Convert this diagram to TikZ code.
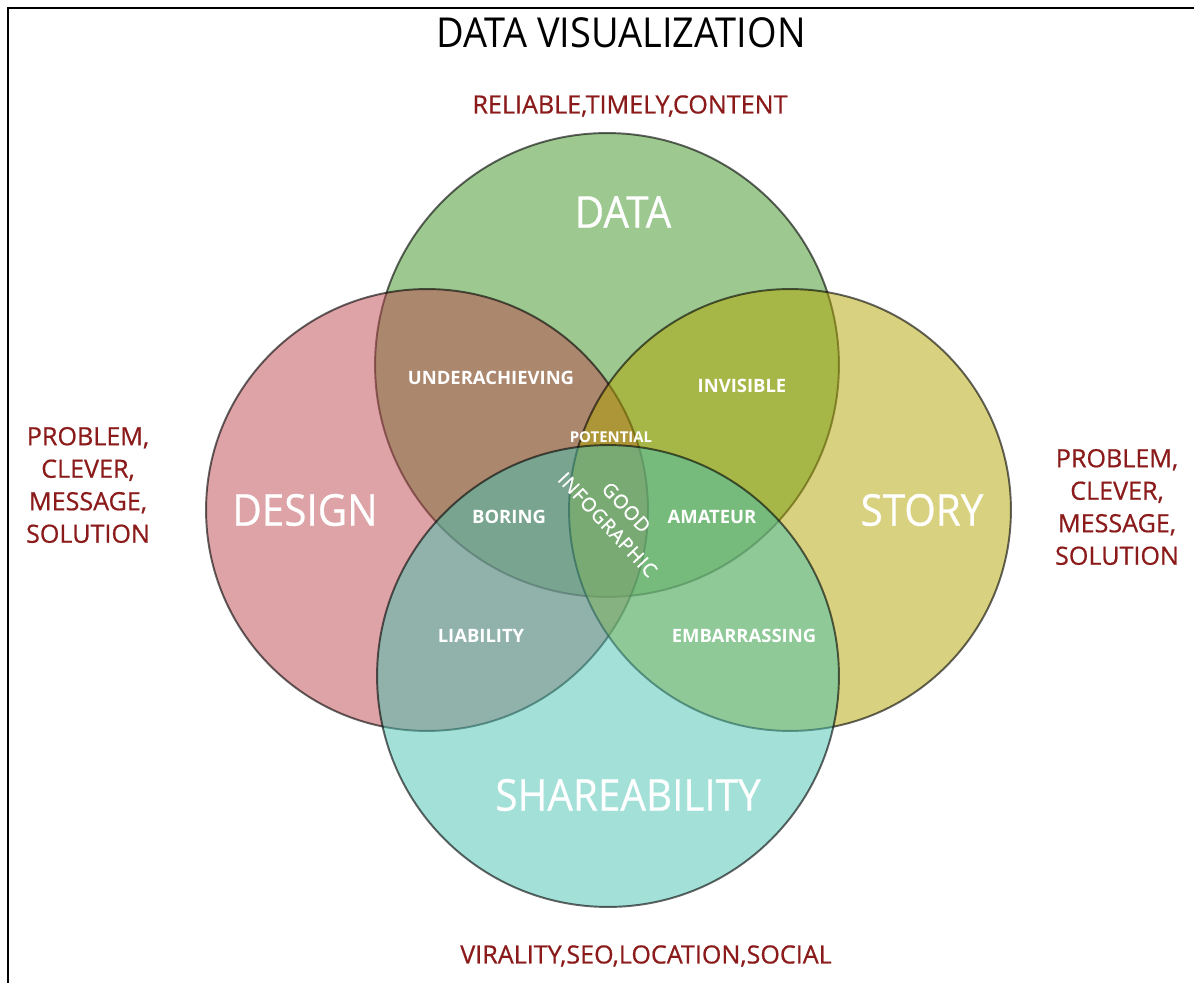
\documentclass[tikz,border=0pt]{standalone}
\usepackage{fontspec}
\setmainfont{Open Sans}
\newfontfamily\narrowfont[FakeStretch=0.92]{Open Sans}
\newfontfamily\notefont[FakeBold=0.6]{Open Sans}
\newfontfamily\bigfont[FakeStretch=0.92, FakeBold=0.5]{Open Sans}
\newfontfamily\spacedfont[LetterSpace=4, FakeBold=0.8]{Open Sans}
\usetikzlibrary{positioning}

\definecolor{datagreen}{RGB}{59,145,33}
\definecolor{designpink}{RGB}{187,71,77}
\definecolor{storyolive}{RGB}{177,165,1}
\definecolor{sharecyan}{RGB}{71,193,177}
\definecolor{notered}{RGB}{139,26,26}

\tikzset{
	venn/.style={circle, draw=black, draw opacity=0.6, line width=1.1pt, fill opacity=0.5, inner sep=0pt},
	bigword/.style={text=white, font=\bigfont\fontsize{25}{30}\selectfont},
	smallword/.style={text=white, font=\bfseries\fontsize{10.5}{12}\selectfont},
	noteword/.style={text=notered, align=center, font=\notefont\fontsize{14.3}{18.5}\selectfont},
}

\begin{document}
\begin{tikzpicture}[x=0.02cm, y=-0.02cm]
	\useasboundingbox (0,0) rectangle (1194,983);
	% frame
	\draw[line width=1.2pt] (8,983) -- (8,8) -- (1194,8);

	% the four circles
	\node[venn, fill=datagreen, minimum size=9.28cm] (data) at (607,365) {};
	\node[venn, fill=designpink, minimum size=8.84cm] (design) at (427,510) {};
	\node[venn, fill=storyolive, minimum size=8.84cm] (story) at (790,510) {};
	\node[venn, fill=sharecyan, minimum size=9.24cm] (share) at (608,676) {};

	% titles
	\node[font=\narrowfont\fontsize{23.5}{28}\selectfont] (title) at (621,33) {DATA VISUALIZATION};
	\node[noteword] (top) at (630,106) {RELIABLE,TIMELY,CONTENT};
	\node[noteword] (bottom) at (646,956) {VIRALITY,SEO,LOCATION,SOCIAL};
	\node[noteword] (left) at (88,485) {PROBLEM,\\CLEVER,\\MESSAGE,\\SOLUTION};
	\node[noteword] (right) at (1117,507) {PROBLEM,\\CLEVER,\\MESSAGE,\\SOLUTION};

	% circle names
	\node[bigword] (datalbl) at (623,212) {DATA};
	\node[bigword] (designlbl) at (305,510) {DESIGN};
	\node[bigword] (storylbl) at (922,510) {STORY};
	\node[bigword] (sharelbl) at (628,795) {SHAREABILITY};

	% overlaps
	\node[smallword] (under) at (491,378) {UNDERACHIEVING};
	\node[smallword] (invis) at (742,386) {INVISIBLE};
	\node[smallword, font=\bfseries\fontsize{8.5}{10}\selectfont] (potential) at (611,437) {POTENTIAL};
	\node[smallword] (boring) at (509,517) {BORING};
	\node[smallword] (amateur) at (712,517) {AMATEUR};
	\node[smallword] (liab) at (481,636) {LIABILITY};
	\node[smallword] (embar) at (744,636) {EMBARRASSING};
	\node[text=white, align=center, rotate=-47, inner sep=0pt, font=\spacedfont\fontsize{11}{14.5}\selectfont] (good) at (617,516) {GOOD\\INFOGRAPHIC};
\end{tikzpicture}
\end{document}
